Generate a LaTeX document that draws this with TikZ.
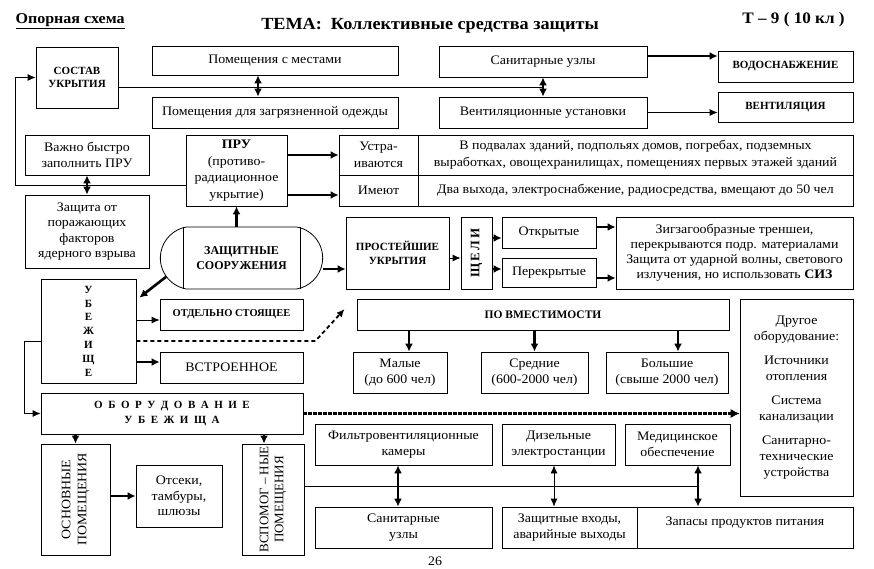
\documentclass[tikz,border=0pt]{standalone}
\usepackage{fontspec}
\setmainfont{Liberation Serif}
\newfontfamily\widefont{Liberation Serif}[FakeStretch=1.07]
\usetikzlibrary{arrows.meta,shapes.misc}

\tikzset{
  box/.style={draw, line width=0.8pt, align=center, inner sep=1pt, font=\widefont\fontsize{13}{15.5}\selectfont},
  bbox/.style={box, font=\fontsize{11}{13.5}\selectfont\bfseries},
  wh/.style 2 args={minimum width=#1pt, minimum height=#2pt},
  thinarr/.style={line width=0.8pt, -{Latex[length=8pt,width=7pt]}},
  thickarr/.style={line width=2.6pt, -{Latex[length=8pt,width=8pt]}},
  thindbl/.style={line width=0.8pt, {Latex[length=8pt,width=7pt]}-{Latex[length=8pt,width=7pt]}},
  thickdbl/.style={line width=2.6pt, {Latex[length=8pt,width=8pt]}-{Latex[length=8pt,width=8pt]}},
}

\begin{document}
\begin{tikzpicture}[x=1pt, y=-1pt]
\useasboundingbox (0,0) rectangle (874,569);

% Headings
\node[anchor=west, font=\widefont\fontsize{15}{17}\selectfont\bfseries] (opora) at (12,21) {\underline{Опорная схема}};
\node[font=\widefont\fontsize{17}{20}\selectfont\bfseries] (tema) at (430,26) {ТЕМА:\ \ Коллективные средства защиты};
\node[font=\widefont\fontsize{16}{18}\selectfont\bfseries] (klass) at (793.5,20) {Т – 9 ( 10 кл )};

% Composition of the shelter
\node[bbox, wh={82}{61}] (sostav) at (77,77.5) {СОСТАВ\\УКРЫТИЯ};
\node[box, wh={246}{29}] (mesta) at (275,60.5) {Помещения с местами};
\node[box, wh={246}{31}] (odezhda) at (275,112.5) {Помещения для загрязненной одежды};
\node[box, wh={208}{31}] (sanuzly) at (543,61.5) {Санитарные узлы};
\node[box, wh={208}{31}] (ventust) at (543,112.5) {Вентиляционные установки};
\node[bbox, wh={135}{31}] (vodo) at (785.5,66.5) {ВОДОСНАБЖЕНИЕ};
\node[bbox, wh={135}{30}] (vent) at (785.5,107) {ВЕНТИЛЯЦИЯ};

\draw[line width=0.8pt] ([yshift=-9.5pt]sostav.east) -- ([yshift=-9.5pt]sostav.east -| sanuzly.south);
\draw[thickdbl] ([xshift=-17pt]mesta.south) -- ([xshift=-17pt]odezhda.north);
\draw[thickdbl] (sanuzly.south) -- (ventust.north);
\draw[thickarr] ([yshift=5.5pt]sanuzly.east) -- ([yshift=5.5pt]sanuzly.east -| vodo.west);
\draw[thinarr] (ventust.east) -- (ventust.east -| vent.west);

% PRU
\node[box, wh={124}{40}] (vazhno) at (87,155) {Важно быстро\\заполнить ПРУ};
\node[box, wh={124}{73}] (zashch) at (87,231.5) {Защита от\\поражающих\\факторов\\ядерного взрыва};
\node[box, wh={101}{71}, font=\widefont\fontsize{13}{16.5}\selectfont] (pru) at (236.5,170.5) {\textbf{ПРУ}\\(противо-\\радиационное\\укрытие)};
\node[box, wh={79}{40}, font=\widefont\fontsize{13}{16.5}\selectfont] (ustr) at (378.5,155) {Устра-\\иваются};
\node[box, wh={435}{40}, font=\widefont\fontsize{13}{17}\selectfont] (podval) at (635.5,155) {В подвалах зданий, подпольях домов, погребах, подземных\\выработках, овощехранилищах, помещениях первых этажей зданий};
\node[box, wh={79}{31}] (imeyut) at (378.5,190.5) {Имеют};
\node[box, wh={435}{31}] (dva) at (635.5,190.5) {Два выхода, электроснабжение, радиосредства, вмещают до 50 чел};

\coordinate (lft) at (15,0);
\draw[thinarr] ([yshift=-14.5pt]pru.west) -| (lft |- sostav.west) -- (sostav.west);
\draw[thickdbl] (vazhno.south) -- (zashch.north);
\draw[thickarr] (pru.east |- ustr) -- (ustr.west);
\draw[thickarr] ([yshift=-4.5pt]pru.east |- imeyut) -- ([yshift=-4.5pt]imeyut.west);

% Protective structures
\node[draw, line width=0.8pt, rounded rectangle, rounded rectangle arc length=160, wh={169}{62}, align=center, font=\fontsize{12}{15}\selectfont\bfseries] (zs) at (241.5,258) {ЗАЩИТНЫЕ\\СООРУЖЕНИЯ};
\draw[line width=0.8pt] ([xshift=-58.5pt]zs.north) -- ([xshift=-58.5pt]zs.south);
\draw[line width=0.8pt] ([xshift=58.5pt]zs.north) -- ([xshift=58.5pt]zs.south);
\draw[thickarr] (zs.north -| pru.south) -- (pru.south);

% Simplest shelters
\node[bbox, wh={103}{72}] (prost) at (397.5,253) {ПРОСТЕЙШИЕ\\УКРЫТИЯ};
\node[box, wh={31}{72}] (shcheli) at (476.5,253) {};
\node[rotate=90, font=\fontsize{13}{15}\selectfont\bfseries\addfontfeature{LetterSpace=15}] (shchtxt) at (shcheli) {ЩЕЛИ};
\node[box, wh={94}{31}] (otkr) at (549,232.5) {Открытые};
\node[box, wh={94}{29}] (perekr) at (549,272.5) {Перекрытые};
\node[box, wh={237}{72}, font=\widefont\fontsize{13}{15}\selectfont] (treshei) at (734.5,253) {Зигзагообразные треншеи,\\перекрываются подр. материалами\\Защита от ударной волны, светового\\излучения, но использовать \textbf{СИЗ}};

\draw[thickarr] ([yshift=-11pt]zs.east) -- ([yshift=-11pt]zs.east -| prost.west);
\draw[thinarr] ([yshift=-5pt]prost.east) -- ([yshift=-5pt]prost.east -| shcheli.west);
\draw[thickarr] ([yshift=-5.5pt]shcheli.east |- otkr) -- ([yshift=-5.5pt]otkr.west);
\draw[thickarr] ([yshift=3.5pt]shcheli.east |- perekr) -- ([yshift=3.5pt]perekr.west);
\draw[thickarr] ([yshift=5.5pt]otkr.east) -- ([yshift=5.5pt]otkr.east -| treshei.west);
\draw[thickarr] ([yshift=-5.5pt]perekr.east) -- ([yshift=-5.5pt]perekr.east -| treshei.west);

% Shelters
\node[box, wh={95}{104}, font=\fontsize{11}{13.8}\selectfont\bfseries] (ubezh) at (88.5,331) {У\\Б\\Е\\Ж\\И\\Щ\\Е};
\node[box, wh={143}{31}, font=\fontsize{10.5}{13}\selectfont\bfseries] (otdel) at (231.5,314.5) {ОТДЕЛЬНО СТОЯЩЕЕ};
\node[box, wh={143}{31}] (vstr) at (231.5,367.5) {ВСТРОЕННОЕ};
\draw[thickarr] (zs.194) -- ([shift={(3pt,-19pt)}]ubezh.north east);
\draw[thinarr] ([yshift=11pt]ubezh.east) -- ([yshift=11pt]ubezh.east -| otdel.west);
\draw[thickarr] ([yshift=-31pt]ubezh.east) -- ([yshift=-31pt]ubezh.east -| vstr.west);

% By capacity
\node[bbox, wh={372}{31}, font=\fontsize{11.5}{14}\selectfont\bfseries] (vmest) at (543,314.5) {ПО ВМЕСТИМОСТИ};
\node[box, wh={94}{41}] (malye) at (400,372.5) {Малые\\(до 600 чел)};
\node[box, wh={107}{41}] (srednie) at (534.5,372.5) {Средние\\(600-2000 чел)};
\node[box, wh={122}{41}] (bolshie) at (667,372.5) {Большие\\(свыше 2000 чел)};
\draw[line width=1.8pt, dash pattern=on 4pt off 3pt, -{Latex[length=8pt,width=7pt]}] ([yshift=-10pt]ubezh.east) -- ++(179,0) -- ([shift={(-12pt,5.5pt)}]vmest.west);
\draw[thickarr] ([xshift=9pt]malye.north |- vmest.south) -- ([xshift=9pt]malye.north);
\draw[thickarr] (srednie.north |- vmest.south) -- (srednie.north);
\draw[thickarr] ([xshift=11pt]bolshie.north |- vmest.south) -- ([xshift=11pt]bolshie.north);

% Equipment of the shelter
\node[box, wh={113}{197}, font=\widefont\fontsize{13}{16}\selectfont] (drugoe) at (796.5,397.5) {Другое\\оборудование:\\[8pt]Источники\\отопления\\[8pt]Система\\канализации\\[8pt]Санитарно-\\технические\\устройства};
\node[bbox, wh={262}{41}, font=\fontsize{11}{15}\selectfont\bfseries\addfontfeature{LetterSpace=25}] (oborud) at (172,413.5) {О Б О Р У Д О В А Н И Е\\У Б Е Ж И Щ А};
\draw[thinarr] ([yshift=-10pt]ubezh.west) -- ++(-16,0) |- (oborud.west);
\draw[line width=3.5pt, dash pattern=on 3.5pt off 1.5pt] (oborud.east) -- ([xshift=-8pt]oborud.east -| drugoe.west);
\draw[line width=1pt, -{Latex[length=9pt,width=9pt]}] ([xshift=-9pt]oborud.east -| drugoe.west) -- (oborud.east -| drugoe.west);

\node[box, wh={69}{111}] (osnov) at (75.5,499.5) {};
\node[rotate=90, align=center, font=\widefont\fontsize{13}{16}\selectfont] (osnovtxt) at (osnov) {ОСНОВНЫЕ\\ПОМЕЩЕНИЯ};
\node[box, wh={86}{62}] (otseki) at (179,496) {Отсеки,\\тамбуры,\\шлюзы};
\node[box, wh={62}{111}] (vspom) at (273,499.5) {};
\node[rotate=90, align=center, font=\fontsize{13}{15}\selectfont] (vspomtxt) at (vspom) {ВСПОМОГ – НЫЕ\\ПОМЕЩЕНИЯ};
\draw[thickarr] (osnov.north |- oborud.south) -- (osnov.north);
\draw[thickarr] ([xshift=-9pt]vspom.north |- oborud.south) -- ([xshift=-9pt]vspom.north);
\draw[thickarr] (osnov.east |- otseki) -- (otseki.west);

\node[box, wh={177}{41}] (filtr) at (403.5,444.5) {Фильтровентиляционные\\камеры};
\node[box, wh={177}{41}] (sanuz2) at (403.5,527.5) {Санитарные\\узлы};
\node[box, wh={113}{41}] (dizel) at (558.5,444.5) {Дизельные\\электростанции};
\node[box, wh={135}{41}] (vhody) at (569.5,527.5) {Защитные входы,\\аварийные выходы};
\node[box, wh={105}{41}] (medic) at (677.5,444.5) {Медицинское\\обеспечение};
\node[box, wh={216}{41}] (zapasy) at (745,527.5) {Запасы продуктов питания\\[-2pt]\mbox{}};

\coordinate (mdx) at ([xshift=20.5pt]medic.south);
\draw[line width=0.8pt] ([yshift=13.5pt]vspom.east) -- ([yshift=13.5pt]vspom.east -| mdx);
\draw[thickdbl] ([xshift=-5.5pt]filtr.south) -- ([xshift=-5.5pt]sanuz2.north);
\draw[thindbl] ([xshift=-4.5pt]dizel.south) -- ([xshift=-4.5pt]dizel.south |- vhody.north);
\draw[thickdbl] (mdx) -- (mdx |- zapasy.north);

% Page number
\node[anchor=north, font=\widefont\fontsize{13}{15}\selectfont] (page) at (435,553) {26};
\end{tikzpicture}
\end{document}
